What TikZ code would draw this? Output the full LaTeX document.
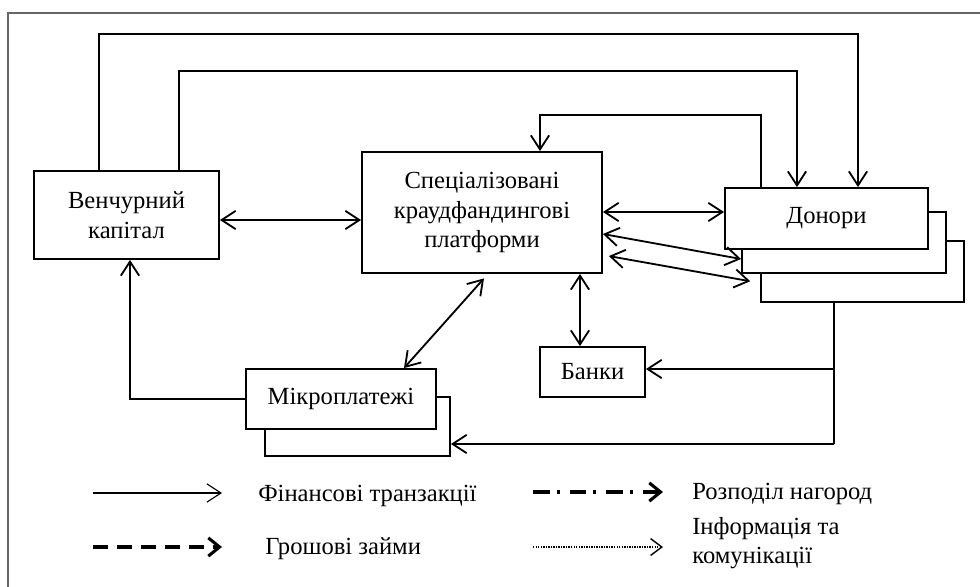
\documentclass[tikz,border=0pt]{standalone}
\usepackage{fontspec}
\setmainfont{Liberation Serif}
\usetikzlibrary{arrows.meta}
\newcommand{\boxfont}{\fontsize{17.5}{21}\selectfont}
\begin{document}
\begin{tikzpicture}[x = 0.025cm, y = -0.025cm,
    box/.style = {draw, fill = white, line width = 1.3pt, inner sep = 0pt,
                  align = center, font = \boxfont},
    legend/.style = {anchor = west, align = left, inner sep = 0pt, font = \boxfont},
    arr/.style = {line width = 1.3pt, -{Straight Barb[length = 10pt, width = 13pt]}},
    both/.style = {line width = 1.3pt,
                   {Straight Barb[length = 10pt, width = 13pt]}-{Straight Barb[length = 10pt, width = 13pt]}},
    plain/.style = {line width = 1.3pt}]
  \useasboundingbox (0, 0) rectangle (980, 586);
  \draw[gray!80!black, line width = 0.8pt] (995, 13) -- (8, 13) -- (8, 600);

  \node[box, minimum width = 4.625cm, minimum height = 2.2cm] (venture) at (126.5, 215)
       {Венчурний\\капітал};
  \node[box, minimum width = 6cm, minimum height = 3.025cm] (platform) at (482, 212.5)
       {Спеціалізовані\\краудфандингові\\платформи};
  \node[box, minimum width = 5.075cm, minimum height = 1.525cm] (donor3) at (862.5, 271.5) {};
  \node[box, minimum width = 5.1cm, minimum height = 1.525cm] (donor2) at (844, 242.5) {};
  \node[box, minimum width = 5.075cm, minimum height = 1.525cm] (donor1) at (826.5, 218.5) {Донори};
  \node[box, minimum width = 2.625cm, minimum height = 1.25cm] (banks) at (592.5, 372) {Банки};
  \node[box, minimum width = 4.625cm, minimum height = 1.475cm] (micro2) at (357.5, 426.5) {};
  \node[box, minimum width = 4.75cm, minimum height = 1.5cm] (micro1) at (341, 399) {Мікроплатежі};

  \coordinate (a1) at (99, 34);
  \coordinate (a2) at (858, 34);
  \coordinate (b1) at (179, 71);
  \coordinate (b2) at (797, 71);
  \coordinate (c1) at (761, 115);
  \coordinate (c2) at (540, 115);
  \draw[arr] (venture.north -| a1) -- (a1) -- (a2) -- (a2 |- donor1.north);
  \draw[arr] (venture.north -| b1) -- (b1) -- (b2) -- (b2 |- donor1.north);
  \draw[arr] (c1 |- donor1.north) -- (c1) -- (c2) -- (c2 |- platform.north);

  \coordinate (d) at (0, 220);
  \coordinate (e) at (0, 212);
  \coordinate (f1) at (0, 234);
  \coordinate (f2) at (0, 259);
  \coordinate (g1) at (0, 255);
  \coordinate (g2) at (0, 283);
  \draw[both] (venture.east |- d) -- (platform.west |- d);
  \draw[both] (platform.east |- e) -- (donor1.west |- e);
  \draw[both] (platform.east |- f1) -- (donor2.west |- f2);
  \draw[both, shorten <= 0.15cm, shorten >= 0.25cm] (platform.east |- g1) -- (donor3.west |- g2);

  \coordinate (h1) at (488, 0);
  \coordinate (h2) at (404, 0);
  \coordinate (k) at (580, 0);
  \draw[both, shorten <= 0.15cm] (platform.south -| h1) -- (micro1.north -| h2);
  \draw[both] (platform.south -| k) -- (banks.north -| k);

  \coordinate (m1) at (834, 369);
  \coordinate (m2) at (834, 444);
  \draw[plain] (donor3.south -| m1) -- (m2);
  \draw[arr] (m1) -- (banks.east |- m1);
  \draw[arr] (m2) -- (micro2.east |- m2);

  \coordinate (n) at (130, 0);
  \draw[arr] (micro1.west) -| (venture.south -| n);

  \coordinate (l1a) at (93, 493);
  \coordinate (l1b) at (222, 493);
  \coordinate (l2a) at (93, 547);
  \coordinate (l2b) at (222, 547);
  \coordinate (l3a) at (533, 492);
  \coordinate (l3b) at (663, 492);
  \coordinate (l4a) at (533, 547);
  \coordinate (l4b) at (663, 547);
  \node[legend] (t1) at (258, 496) {Фінансові транзакції};
  \node[legend] (t2) at (265, 549) {Грошові займи};
  \node[legend] (t3) at (692, 494) {Розподіл нагород};
  \node[legend] (t4) at (692, 543) {Інформація та\\комунікації};
  \draw[line width = 0.8pt, -{Straight Barb[length = 10pt, width = 13pt]}] (l1a) -- (l1b);
  \draw[line width = 2.2pt, dash pattern = on 11pt off 6pt,
        -{Straight Barb[length = 8pt, width = 13pt]}] (l2a) -- (l2b);
  \draw[line width = 2.2pt, dash pattern = on 12pt off 5pt on 2pt off 7pt,
        -{Straight Barb[length = 8pt, width = 13pt]}] (l3a) -- (l3b);
  \draw[line width = 1pt, dash pattern = on 1pt off 0.8pt,
        -{Straight Barb[length = 8pt, width = 12pt]}] (l4a) -- (l4b);
\end{tikzpicture}
\end{document}
